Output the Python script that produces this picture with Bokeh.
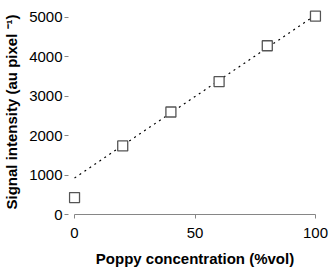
import numpy as np
from bokeh.plotting import figure
from bokeh.models import FixedTicker, Range1d
from bokeh.embed import file_html
from bokeh.resources import INLINE

# data
concentration = [0, 20, 40, 60, 80, 100]
signal = [430, 1740, 2600, 3370, 4280, 5030]
x_ticks = [0, 50, 100]
y_ticks = [0, 1000, 2000, 3000, 4000, 5000]

# dotted linear trend line (fitted to the points above 0 % vol)
slope, intercept = np.polyfit(concentration[1:], signal[1:], 1)
trend_x = [concentration[0], concentration[-1]]
trend_y = [intercept + slope * v for v in trend_x]

FONT = "Liberation Sans"

p = figure(width=332, height=271, output_backend="svg", toolbar_location=None,
           x_range=Range1d(-2.5, 102.5), y_range=Range1d(0, 5200),
           min_border_left=64, min_border_right=11, min_border_top=9,
           min_border_bottom=57)
p.outline_line_color = None
p.grid.visible = False
p.background_fill_color = "white"

p.line(trend_x, trend_y, line_color="black", line_width=1.2, line_dash="2 4")
p.scatter(concentration, signal, marker="square", size=10, fill_color="white",
          line_color="#555555", line_width=1.3)

xa = p.xaxis[0]
xa.ticker = FixedTicker(ticks=x_ticks)
xa.bounds = (0, 100)
xa.axis_line_color = "#868686"
xa.major_tick_line_color = "#868686"
xa.major_tick_in = 0
xa.major_tick_out = 4
xa.minor_tick_line_color = None
xa.major_label_standoff = 9
xa.major_label_text_font = FONT
xa.major_label_text_font_size = "15px"
xa.major_label_text_color = "black"
xa.axis_label = "Poppy concentration (%vol)"
xa.axis_label_text_font = FONT
xa.axis_label_text_font_style = "bold"
xa.axis_label_text_font_size = "15px"
xa.axis_label_text_color = "black"
xa.axis_label_standoff = 9

ya = p.yaxis[0]
ya.ticker = FixedTicker(ticks=y_ticks)
ya.axis_line_color = None
ya.major_tick_line_color = "#868686"
ya.major_tick_in = 0
ya.major_tick_out = 4
ya.minor_tick_line_color = None
ya.major_label_standoff = 2
ya.major_label_text_font = FONT
ya.major_label_text_font_size = "15px"
ya.major_label_text_color = "black"
ya.axis_label = "Signal intensity (au pixel \u207b\u00b9)"
ya.axis_label_text_font = FONT
ya.axis_label_text_font_style = "bold"
ya.axis_label_text_font_size = "15px"
ya.axis_label_text_color = "black"
ya.axis_label_standoff = 6

open("out.html", "w").write(file_html(p, INLINE))
